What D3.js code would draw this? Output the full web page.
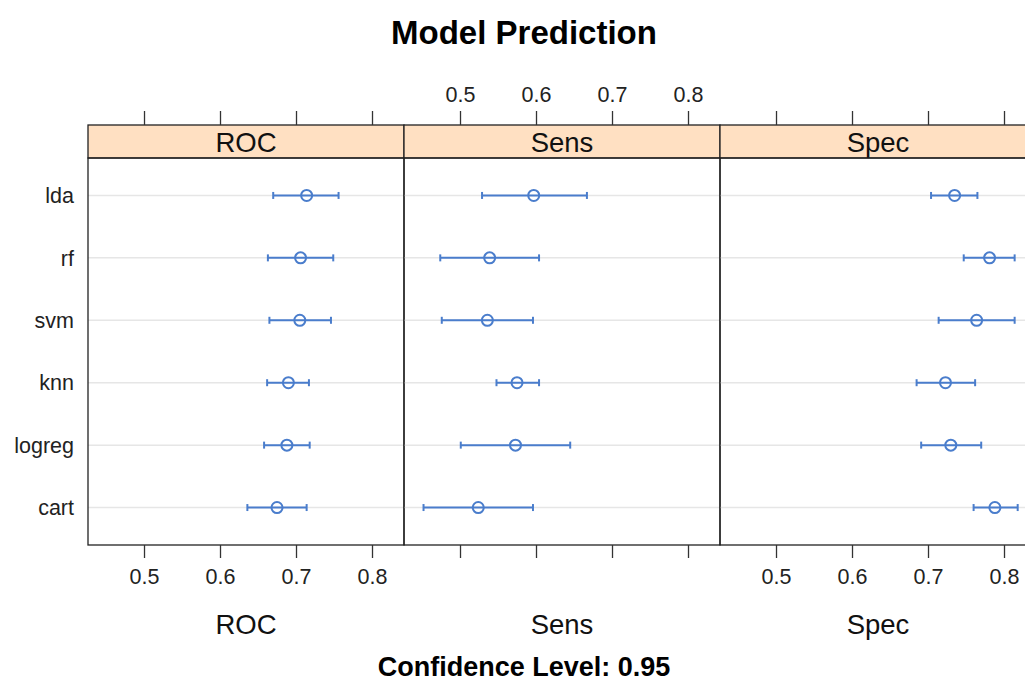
<!DOCTYPE html>
<html>
<head>
<meta charset="utf-8">
<script src="https://cdn.jsdelivr.net/npm/d3@7"></script>
<style>
  html, body { margin: 0; padding: 0; background: #fff; }
  svg { display: block; font-family: "Liberation Sans", Arial, sans-serif; }
</style>
</head>
<body>
<svg id="chart" width="1025" height="682"></svg>
<script>
// ---- data ----
const models = ["cart", "logreg", "knn", "svm", "rf", "lda"];
const metrics = ["ROC", "Sens", "Spec"];
const tickValues = [0.5, 0.6, 0.7, 0.8];

const rocMean  = [0.675, 0.688, 0.690, 0.705, 0.706, 0.714];
const rocLower = [0.636, 0.658, 0.662, 0.665, 0.663, 0.670];
const rocUpper = [0.714, 0.718, 0.717, 0.746, 0.749, 0.756];

const sensMean  = [0.524, 0.573, 0.575, 0.536, 0.539, 0.597];
const sensLower = [0.452, 0.501, 0.548, 0.476, 0.474, 0.529];
const sensUpper = [0.596, 0.645, 0.604, 0.596, 0.604, 0.667];

const specMean  = [0.788, 0.730, 0.723, 0.764, 0.781, 0.735];
const specLower = [0.760, 0.691, 0.685, 0.714, 0.747, 0.704];
const specUpper = [0.818, 0.770, 0.762, 0.814, 0.814, 0.765];

const titleText = "Model Prediction";
const subText = "Confidence Level: 0.95";

// ---- build ----
const series = {
  ROC:  { mean: rocMean,  lower: rocLower,  upper: rocUpper },
  Sens: { mean: sensMean, lower: sensLower, upper: sensUpper },
  Spec: { mean: specMean, lower: specLower, upper: specUpper }
};

const svg = d3.select("#chart");
const panelLeft = 88, panelW = 316;
const stripTop = 125, stripBot = 158, panelBot = 545;
const blue = "#4a7dcc";
const labelSize = 21.5;

const y = d3.scaleLinear().domain([0.4, models.length + 0.6]).range([panelBot, stripBot]);

// title
svg.append("text").attr("x", 524).attr("y", 44).attr("text-anchor", "middle")
  .attr("font-size", 33).attr("font-weight", "bold").attr("fill", "#000").text(titleText);
svg.append("text").attr("x", 524).attr("y", 676).attr("text-anchor", "middle")
  .attr("font-size", 27).attr("font-weight", "bold").attr("fill", "#000").text(subText);

metrics.forEach((m, i) => {
  const x0 = panelLeft + i * panelW;
  const x = d3.scaleLinear().domain([0.4263, 0.8421]).range([x0, x0 + panelW]);
  const g = svg.append("g");
  const d = series[m];

  // gridlines
  g.selectAll("line.grid").data(models).enter().append("line")
    .attr("x1", x0).attr("x2", x0 + panelW)
    .attr("y1", (_, k) => y(k + 1)).attr("y2", (_, k) => y(k + 1))
    .attr("stroke", "#e6e6e6").attr("stroke-width", 1.5);

  // error bars
  g.selectAll("line.bar").data(models).enter().append("line")
    .attr("x1", (_, k) => x(d.lower[k])).attr("x2", (_, k) => x(d.upper[k]))
    .attr("y1", (_, k) => y(k + 1)).attr("y2", (_, k) => y(k + 1))
    .attr("stroke", blue).attr("stroke-width", 2);
  ["lower", "upper"].forEach(side => {
    g.selectAll("line.cap" + side).data(models).enter().append("line")
      .attr("x1", (_, k) => x(d[side][k])).attr("x2", (_, k) => x(d[side][k]))
      .attr("y1", (_, k) => y(k + 1) - 3.5).attr("y2", (_, k) => y(k + 1) + 3.5)
      .attr("stroke", blue).attr("stroke-width", 2);
  });
  g.selectAll("circle").data(models).enter().append("circle")
    .attr("cx", (_, k) => x(d.mean[k])).attr("cy", (_, k) => y(k + 1))
    .attr("r", 5.5).attr("fill", "none").attr("stroke", blue).attr("stroke-width", 2);

  // strip
  g.append("rect").attr("x", x0).attr("y", stripTop).attr("width", panelW)
    .attr("height", stripBot - stripTop).attr("fill", "#ffe0c2")
    .attr("stroke", "#222").attr("stroke-width", 1.3);
  g.append("text").attr("x", x0 + panelW / 2).attr("y", 152).attr("text-anchor", "middle")
    .attr("font-size", 27.5).attr("fill", "#111").text(m);

  // panel border
  g.append("rect").attr("x", x0).attr("y", stripBot).attr("width", panelW)
    .attr("height", panelBot - stripBot).attr("fill", "none")
    .attr("stroke", "#222").attr("stroke-width", 1.3);

  // top axis
  const top = svg.append("g").attr("transform", `translate(0,${stripTop})`)
    .call(d3.axisTop(x).tickValues(tickValues).tickSize(14).tickPadding(9)
      .tickFormat(i === 1 ? d3.format(".1f") : () => ""));
  top.select(".domain").remove();
  top.selectAll("line").attr("stroke", "#333").attr("stroke-width", 1.3);
  top.selectAll("text").attr("font-size", labelSize).attr("fill", "#222")
    .attr("font-family", "Liberation Sans, Arial, sans-serif");

  // bottom axis
  const bot = svg.append("g").attr("transform", `translate(0,${panelBot})`)
    .call(d3.axisBottom(x).tickValues(tickValues).tickSize(13).tickPadding(11)
      .tickFormat(i !== 1 ? d3.format(".1f") : () => ""));
  bot.select(".domain").remove();
  bot.selectAll("line").attr("stroke", "#333").attr("stroke-width", 1.3);
  bot.selectAll("text").attr("font-size", labelSize).attr("fill", "#222")
    .attr("font-family", "Liberation Sans, Arial, sans-serif");

  // x label
  svg.append("text").attr("x", x0 + panelW / 2).attr("y", 634).attr("text-anchor", "middle")
    .attr("font-size", 27.5).attr("fill", "#111").text(m);
});

// y labels
svg.append("g").selectAll("text").data(models).enter().append("text")
  .attr("x", 74).attr("y", (_, k) => y(k + 1)).attr("dy", "0.36em")
  .attr("text-anchor", "end").attr("font-size", labelSize).attr("fill", "#222")
  .text(dd => dd);
</script>
</body>
</html>
